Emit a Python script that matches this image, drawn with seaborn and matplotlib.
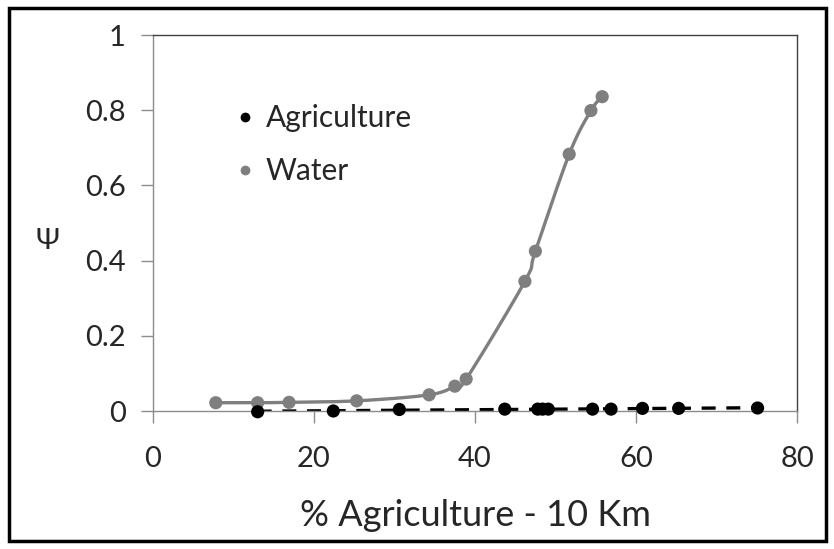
import numpy as np
import pandas as pd
import matplotlib
matplotlib.use("Agg")
import matplotlib.pyplot as plt
import seaborn as sns
from matplotlib.lines import Line2D
from matplotlib.patches import Rectangle

# values
agri_x = [13.0, 22.4, 30.6, 43.7, 47.8, 48.4, 49.1, 54.6, 56.9, 60.8, 65.3, 75.1]
agri_y = [-0.002, 0.0, 0.004, 0.005, 0.005, 0.005, 0.005, 0.005, 0.005, 0.007, 0.007, 0.008]
water_x = [7.8, 13.0, 16.9, 25.3, 34.3, 37.5, 38.9, 46.2, 47.5, 51.7, 54.4, 55.8]
water_y = [0.022, 0.022, 0.023, 0.027, 0.043, 0.066, 0.085, 0.345, 0.425, 0.683, 0.799, 0.836]
x_ticks = [0, 20, 40, 60, 80]
y_ticks = [0, 0.2, 0.4, 0.6, 0.8, 1]
y_labels = ["0", "0.2", "0.4", "0.6", "0.8", "1"]

agri = pd.DataFrame({"x": agri_x, "y": agri_y})
water = pd.DataFrame({"x": water_x, "y": water_y})


# smoothed line through the points, like Excel's "smoothed line"
def smooth(df, n=30):
    pts = df[["x", "y"]].to_numpy()
    pts = np.vstack([pts[0], pts, pts[-1]])
    t = np.linspace(0, 1, n, endpoint=False)[:, None]
    segs = []
    for i in range(1, len(pts) - 2):
        p0, p1, p2, p3 = pts[i - 1:i + 3]
        segs.append(0.5 * (2 * p1 + (-p0 + p2) * t
                           + (2 * p0 - 5 * p1 + 4 * p2 - p3) * t ** 2
                           + (-p0 + 3 * p1 - 3 * p2 + p3) * t ** 3))
    segs.append(pts[-2][None])
    out = np.vstack(segs)
    return pd.DataFrame({"x": out[:, 0], "y": out[:, 1]})


sns.set_style("white")
plt.rcParams["font.family"] = ["Lato", "DejaVu Sans"]

grey = "#7f7f7f"
axis_grey = "#8c8c8c"

fig = plt.figure(figsize=(8.34, 5.49), dpi=100)
ax = fig.add_axes([153 / 834, 1 - 411 / 549, (797 - 153) / 834, (411 - 35) / 549])

sns.lineplot(data=smooth(water), x="x", y="y", sort=False, color=grey, lw=2.4, ax=ax)
sns.regplot(data=agri, x="x", y="y", scatter=False, ci=None, ax=ax,
            line_kws=dict(color="black", lw=2.4, linestyle=(0, (4.2, 3.2))))
sns.scatterplot(data=water, x="x", y="y", color=grey, s=90, edgecolor="none",
                clip_on=False, zorder=4, ax=ax)
sns.scatterplot(data=agri, x="x", y="y", color="black", s=90, edgecolor="none",
                clip_on=False, zorder=5, ax=ax)

ax.set_xlim(0, 80)
ax.set_ylim(0, 1)
ax.set_xticks(x_ticks)
ax.set_yticks(y_ticks)
ax.set_yticklabels(y_labels)
ax.tick_params(direction="out", length=8.5, width=1, color=axis_grey,
               labelsize=21, left=True, bottom=True)
ax.tick_params(axis="y", pad=11)
ax.tick_params(axis="x", pad=17)
ax.set_xlabel("% Agriculture - 10 Km", fontsize=26, labelpad=19)
ax.set_ylabel("")
for side in ["left", "bottom"]:
    ax.spines[side].set_color(axis_grey)
    ax.spines[side].set_linewidth(1)
for side in ["top", "right"]:
    ax.spines[side].set_color("#404040")
    ax.spines[side].set_linewidth(1)

fig.text(47 / 834, 1 - 241 / 549, "Ψ", fontsize=21, ha="center", va="center")

handles = [Line2D([], [], ls="none", marker="o", ms=6, color="black"),
           Line2D([], [], ls="none", marker="o", ms=6, color=grey)]
ax.legend(handles, ["Agriculture", "Water"], loc="upper left",
          bbox_to_anchor=(236 / 834, 1 - 104 / 549), bbox_transform=fig.transFigure,
          frameon=False, fontsize=21.5, handlelength=0.6, handletextpad=0.4,
          labelspacing=0.85, borderpad=0, borderaxespad=0)

fig.patches.append(Rectangle((9 / 834, 8 / 549), (826 - 9) / 834, (541 - 8) / 549,
                             transform=fig.transFigure, fill=False, lw=2.5,
                             ec="black"))

fig.savefig("out.png", dpi=100)
